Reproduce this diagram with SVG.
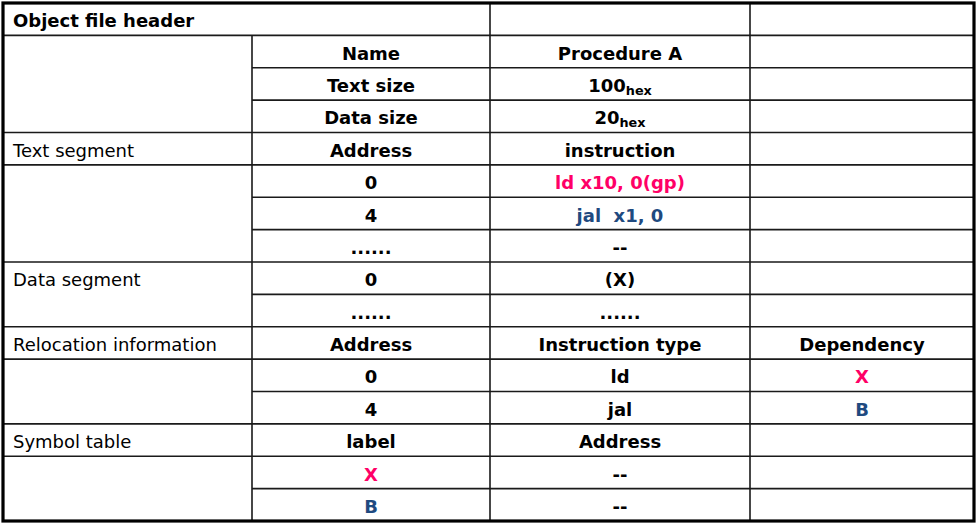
<svg xmlns="http://www.w3.org/2000/svg" width="979" height="525" viewBox="0 0 979 525">
<style>
text{font-family:"DejaVu Sans","Verdana",sans-serif;font-size:18px;fill:#000}
.b{font-weight:bold}
.c{text-anchor:middle;font-weight:bold}
.sub{font-size:12.8px;font-weight:bold}
.pk{fill:#FF0066}
.bl{fill:#1F4A80}
.ln{stroke:#1a1a1a;stroke-width:1.6;fill:none}
.pre{white-space:pre}
</style>
<rect x="0" y="0" width="979" height="525" fill="#fff"/>
<g id="grid" class="ln">
<path d="M3 35.4H974 M252 67.75H974 M252 100.1H974 M3 132.5H974 M3 164.9H974 M252 197.25H974 M252 229.6H974 M3 262H974 M252 294.4H974 M3 326.75H974 M3 359.1H974 M252 391.5H974 M3 423.9H974 M3 456.25H974 M252 488.6H974"/>
<path d="M252 35.4V521 M490 3V521 M750 3V521"/>
</g>
<rect x="3" y="3" width="971" height="518" fill="none" stroke="#000" stroke-width="3.2"/>
<g id="r0"><text class="b" x="13" y="27.3">Object file header</text></g>
<g id="r1"><text class="c" x="371" y="59.7">Name</text><text class="c" x="620" y="59.7">Procedure A</text></g>
<g id="r2"><text class="c" x="371" y="92">Text size</text><text class="c" x="620" y="92">100<tspan class="sub" dy="3">hex</tspan></text></g>
<g id="r3"><text class="c" x="371" y="124.4">Data size</text><text class="c" x="620" y="124.4">20<tspan class="sub" dy="3">hex</tspan></text></g>
<g id="r4"><text x="13" y="156.8">Text segment</text><text class="c" x="371" y="156.8">Address</text><text class="c" x="620" y="156.8">instruction</text></g>
<g id="r5"><text class="c" x="371" y="189.2">0</text><text class="c pk" x="620" y="189.2">ld x10, 0(gp)</text></g>
<g id="r6"><text class="c" x="371" y="221.5">4</text><text class="c bl pre" x="620" y="221.5">jal  x1, 0</text></g>
<g id="r7"><text class="c" x="371" y="253.9">......</text><text class="c" x="620" y="253.9">--</text></g>
<g id="r8"><text x="13" y="286.3">Data segment</text><text class="c" x="371" y="286.3">0</text><text class="c" x="620" y="286.3">(X)</text></g>
<g id="r9"><text class="c" x="371" y="318.7">......</text><text class="c" x="620" y="318.7">......</text></g>
<g id="r10"><text x="13" y="351">Relocation information</text><text class="c" x="371" y="351">Address</text><text class="c" x="620" y="351">Instruction type</text><text class="c" x="862" y="351">Dependency</text></g>
<g id="r11"><text class="c" x="371" y="383.4">0</text><text class="c" x="620" y="383.4">ld</text><text class="c pk" x="862" y="383.4">X</text></g>
<g id="r12"><text class="c" x="371" y="415.8">4</text><text class="c" x="620" y="415.8">jal</text><text class="c bl" x="862" y="415.8">B</text></g>
<g id="r13"><text x="13" y="448.2">Symbol table</text><text class="c" x="371" y="448.2">label</text><text class="c" x="620" y="448.2">Address</text></g>
<g id="r14"><text class="c pk" x="371" y="480.5">X</text><text class="c" x="620" y="480.5">--</text></g>
<g id="r15"><text class="c bl" x="371" y="512.9">B</text><text class="c" x="620" y="512.9">--</text></g>
</svg>
